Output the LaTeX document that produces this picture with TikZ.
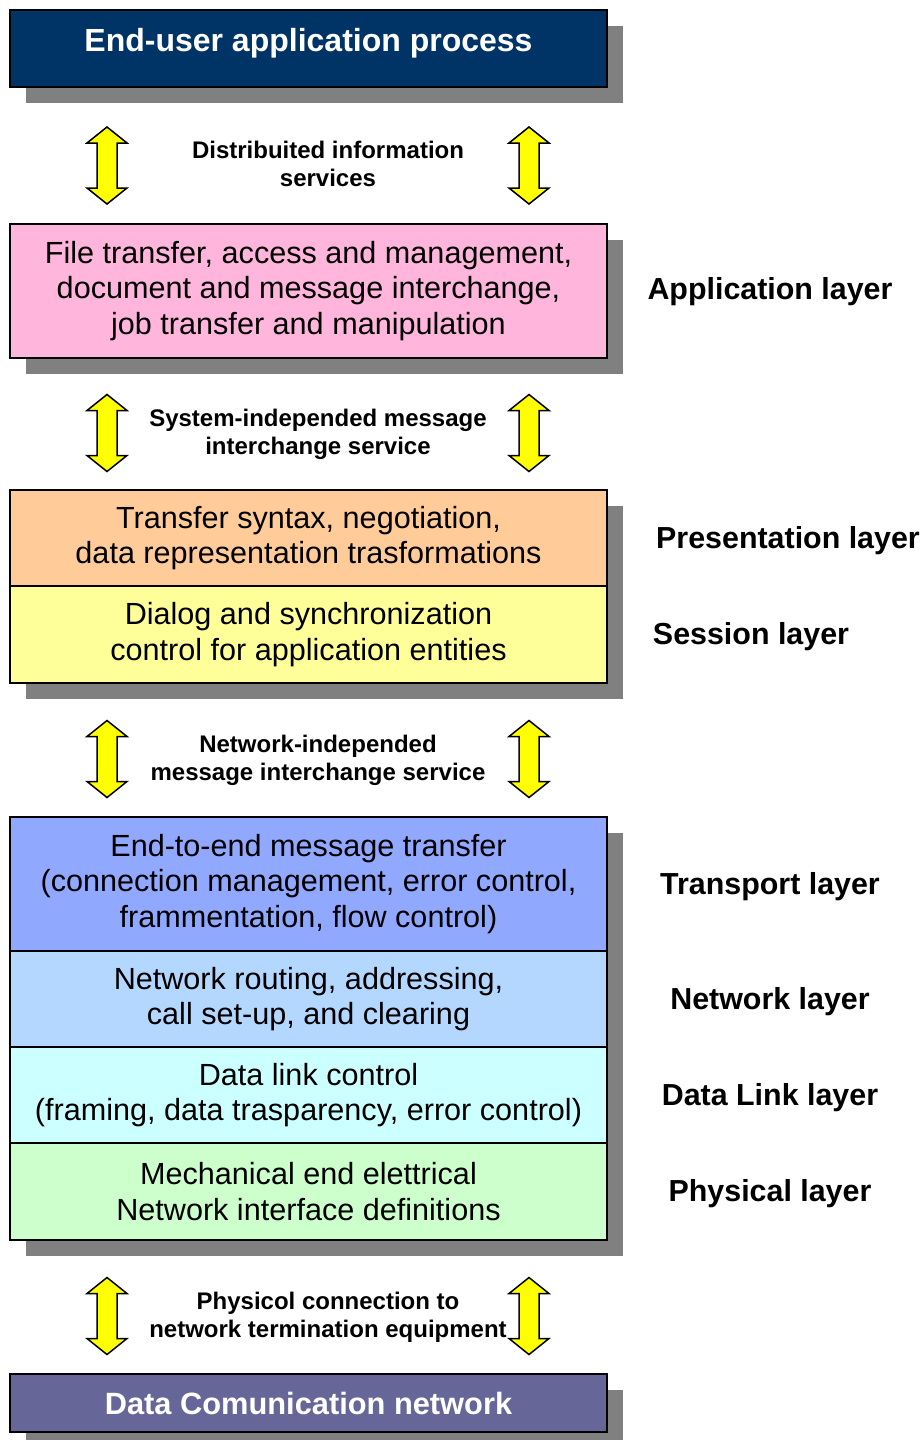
\documentclass[tikz,border=0pt]{standalone}
\usepackage{fontspec}
\setmainfont{Liberation Sans}
\usetikzlibrary{backgrounds}
\definecolor{navybox}{HTML}{003366}
\definecolor{appfill}{HTML}{FFB5DC}
\definecolor{presfill}{HTML}{FFCC99}
\definecolor{sessfill}{HTML}{FFFF99}
\definecolor{transfill}{HTML}{91A8FF}
\definecolor{netfill}{HTML}{B3D7FF}
\definecolor{dlfill}{HTML}{CCFFFF}
\definecolor{physfill}{HTML}{CCFFCC}
\definecolor{commfill}{HTML}{666699}
\definecolor{shadowgray}{HTML}{808080}
\definecolor{arrowyellow}{HTML}{FFFF00}
\begin{document}
\begin{tikzpicture}[x=0.5pt,y=-0.5pt,
  layerbox/.style={draw=black, line width=0.75pt, rectangle, inner sep=0pt, outer sep=0pt,
    minimum width=298.5pt, anchor=north west, align=center,
    font=\fontsize{15.3}{17.6}\selectfont},
  titlebox/.style={layerbox, text=white, font=\bfseries\fontsize{15.4}{17.6}\selectfont},
  boxshadow/.style={fill=shadowgray, draw=none},
  layerlabel/.style={font=\bfseries\fontsize{15.2}{17.5}\selectfont, inner sep=0pt},
  servicelabel/.style={font=\bfseries\fontsize{12}{14}\selectfont, align=center, inner sep=0pt},
  arrowfill/.style={fill=arrowyellow, draw=black, line width=0.75pt, line join=miter},
  updown/.pic={
    \draw[arrowfill] (0,-38.5) -- (20,-22.5) -- (10,-22.5) -- (10,22.5) -- (20,22.5)
      -- (0,38.5) -- (-20,22.5) -- (-10,22.5) -- (-10,-22.5) -- (-20,-22.5) -- cycle;
  }]
\useasboundingbox (0,0) rectangle (923,1440);

% top: end-user process
\node[titlebox, font=\bfseries\fontsize{16}{18}\selectfont, fill=navybox,
  minimum height=38.5pt, text depth=9pt] (enduser) at (10,10)
  {End-user application process};

% distributed information services
\pic at (107,165.5) {updown};
\pic at (529,165.5) {updown};
\node[servicelabel] (distserv) at (328,164) {Distribuited information\\services};

% application layer
\node[layerbox, fill=appfill, minimum height=67pt] (app) at (10,224)
  {File transfer, access and management,\\document and message interchange,\\job transfer and manipulation};
\node[layerlabel] (applbl) at (770,292) {Application layer};

% system-independent interchange
\pic at (107,433) {updown};
\pic at (529,433) {updown};
\node[servicelabel] (sysserv) at (318,434) {System-independed message\\interchange service};

% presentation and session layers
\node[layerbox, fill=presfill, minimum height=48pt] (pres) at (10,490)
  {Transfer syntax, negotiation,\\data representation trasformations};
\node[layerbox, fill=sessfill, minimum height=48.5pt] (sess) at (pres.south west)
  {Dialog and synchronization\\control for application entities};
\node[layerlabel] (preslbl) at (788,541) {Presentation layer};
\node[layerlabel] (sesslbl) at (751,637) {Session layer};

% network-independent interchange
\pic at (107,759) {updown};
\pic at (529,759) {updown};
\node[servicelabel] (netserv) at (318,760.5) {Network-independed\\message interchange service};

% transport, network, data link, physical layers
\node[layerbox, fill=transfill, minimum height=67pt] (trans) at (10,817)
  {End-to-end message transfer\\(connection management, error control,\\frammentation, flow control)};
\node[layerbox, fill=netfill, minimum height=48pt] (net) at (trans.south west)
  {Network routing, addressing,\\call set-up, and clearing};
\node[layerbox, fill=dlfill, minimum height=48pt] (dl) at (net.south west)
  {Data link control\\(framing, data trasparency, error control)};
\node[layerbox, fill=physfill, minimum height=48.5pt] (phys) at (dl.south west)
  {Mechanical end elettrical\\Network interface definitions};
\node[layerlabel] (translbl) at (770,887) {Transport layer};
\node[layerlabel] (netlbl) at (770,1002) {Network layer};
\node[layerlabel] (dllbl) at (770,1098) {Data Link layer};
\node[layerlabel] (physlbl) at (770,1194) {Physical layer};

% physical connection
\pic at (107,1316) {updown};
\pic at (529,1316) {updown};
\node[servicelabel] (physserv) at (328,1317.5) {Physicol connection to\\network termination equipment};

% bottom: data communication network
\node[titlebox, fill=commfill, minimum height=29pt] (dcn) at (10,1374)
  {Data Comunication network};

% offset shadows behind each block of boxes
\begin{scope}[on background layer]
  \fill[boxshadow] ([shift={(8pt,-8pt)}]enduser.north west) rectangle ([shift={(8pt,-8pt)}]enduser.south east);
  \fill[boxshadow] ([shift={(8pt,-8pt)}]app.north west) rectangle ([shift={(8pt,-8pt)}]app.south east);
  \fill[boxshadow] ([shift={(8pt,-8pt)}]pres.north west) rectangle ([shift={(8pt,-8pt)}]sess.south east);
  \fill[boxshadow] ([shift={(8pt,-8pt)}]trans.north west) rectangle ([shift={(8pt,-8pt)}]phys.south east);
  \fill[boxshadow] ([shift={(8pt,-8pt)}]dcn.north west) rectangle ([shift={(8pt,-8pt)}]dcn.south east);
\end{scope}
\end{tikzpicture}
\end{document}
